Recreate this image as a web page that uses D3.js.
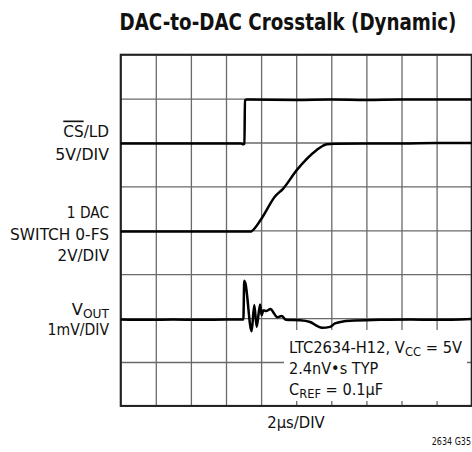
<!DOCTYPE html>
<html>
<head>
<meta charset="utf-8">
<script src="https://cdn.jsdelivr.net/npm/d3@7"></script>
<style>
  body { margin: 0; background: #fff; }
  svg text { font-family: "Liberation Sans Narrow", "DejaVu Sans Condensed", "Arial Narrow", sans-serif; fill: #111; }
</style>
</head>
<body>
<div id="chart"></div>
<script>
// time axis in microseconds (2us/DIV, 10 divisions), vertical in scope divisions (8 divisions, 0 = bottom)
const timeTicks = d3.range(0, 21, 2);
const divTicks = d3.range(0, 9, 1);

// CS/LD trace
const csTime = [0, 4, 6.85, 6.98, 7.05, 7.08, 7.2, 10, 12, 14, 16, 18, 20];
const csVal  = [5.98, 5.98, 5.98, 5.96, 5.97, 6.96, 6.98, 6.97, 6.98, 6.97, 6.98, 6.98, 6.98];

// 1 DAC switch 0-FS trace
const dacTime = [0, 4, 7.4, 7.46, 8.03, 8.79, 9.26, 10.03, 11.17, 11.5, 11.74, 12.2, 14, 16, 18, 20];
const dacVal  = [3.97, 3.97, 3.97, 3.98, 4.27, 4.77, 4.95, 5.37, 5.83, 5.92, 5.96, 5.97, 5.98, 5.98, 5.99, 5.99];

// VOUT trace
const voutTime = [0, 1.5, 3, 4.5, 6, 6.99, 7.04, 7.1, 7.46, 7.61, 7.75, 7.94, 8.03, 8.13, 8.28, 8.54, 8.73, 8.92, 9.17, 9.42, 10.22, 10.79, 11.24, 11.47, 11.93, 12.21, 13.07, 14.77, 16.5, 18, 20];
const voutVal  = [1.97, 1.96, 1.97, 1.96, 1.97, 1.97, 2.85, 2.8, 1.70, 2.30, 1.80, 2.31, 2.07, 2.18, 2.16, 2.21, 2.11, 2.02, 2.05, 1.96, 1.95, 1.91, 1.81, 1.78, 1.80, 1.88, 1.94, 1.96, 1.97, 1.96, 1.98];

const plot = {left: 120.7, right: 471.7, top: 54.7, bottom: 405.9};

const svg = d3.select("#chart").append("svg")
    .attr("width", 472)
    .attr("height", 452);

const x = d3.scaleLinear().domain([0, 20]).range([plot.left, plot.right]);
const y = d3.scaleLinear().domain([0, 8]).range([plot.bottom, plot.top]);
const plotW = plot.right - plot.left, plotH = plot.bottom - plot.top;

// squeeze a text horizontally to the width it has in the condensed original
function fit(t, w) {
    const node = t.node();
    const box = node.getBBox();
    const ax = +t.attr("x");
    const k = w / box.width;
    t.attr("transform", `translate(${ax},0) scale(${k},1) translate(${-ax},0)`);
    return t;
}

// title
fit(svg.append("text")
    .attr("x", 119.5)
    .attr("y", 30)
    .style("font-size", "23.5px")
    .style("font-weight", "bold")
    .text("DAC-to-DAC Crosstalk (Dynamic)"), 337);

// grid through axes
const gx = svg.append("g")
    .attr("transform", `translate(0,${plot.bottom})`)
    .call(d3.axisBottom(x).tickValues(timeTicks).tickSize(-plotH).tickFormat(""));
const gy = svg.append("g")
    .attr("transform", `translate(${plot.left},0)`)
    .call(d3.axisLeft(y).tickValues(divTicks).tickSize(-plotW).tickFormat(""));
gx.select(".domain").remove();
gy.select(".domain").remove();
svg.selectAll(".tick line").attr("stroke", "#6a6a6a").attr("stroke-width", 1.3);

// white box behind annotation
svg.append("rect")
    .attr("x", 284).attr("y", 330)
    .attr("width", 183).attr("height", 71)
    .attr("fill", "#fff");

// frame
svg.append("rect")
    .attr("x", plot.left).attr("y", plot.top)
    .attr("width", plotW).attr("height", plotH)
    .attr("fill", "none")
    .attr("stroke", "#222")
    .attr("stroke-width", 2);

// traces
const line = d3.line().x(d => x(d[0])).y(d => y(d[1])).curve(d3.curveMonotoneX);
const traces = [
    d3.zip(csTime, csVal),
    d3.zip(dacTime, dacVal),
    d3.zip(voutTime, voutVal)
];
svg.append("g").selectAll("path")
    .data(traces)
    .join("path")
    .attr("d", line)
    .attr("fill", "none")
    .attr("stroke", "#000")
    .attr("stroke-width", 2.5)
    .attr("stroke-linejoin", "round");

// left labels
const lab = svg.append("g").style("font-size", "16.5px").attr("text-anchor", "end");
const cs = lab.append("text").attr("x", 109).attr("y", 137.3);
cs.append("tspan").style("text-decoration", "overline").text("CS");
cs.append("tspan").text("/LD");
fit(cs, 45.7);
fit(lab.append("text").attr("x", 109).attr("y", 160).text("5V/DIV"), 54.7);
fit(lab.append("text").attr("x", 109).attr("y", 218.3).text("1 DAC"), 42.3);
fit(lab.append("text").attr("x", 109).attr("y", 240).text("SWITCH 0-FS"), 99);
fit(lab.append("text").attr("x", 109).attr("y", 261).text("2V/DIV"), 52.3);
const vo = lab.append("text").attr("x", 109).attr("y", 315.5);
vo.append("tspan").text("V");
vo.append("tspan").attr("dy", 2.5).style("font-size", "12.5px").text("OUT");
fit(vo, 37.3);
fit(lab.append("text").attr("x", 109).attr("y", 335.5).text("1mV/DIV"), 62.3);

// annotation
const ann = svg.append("g").style("font-size", "16.5px");
const a1 = ann.append("text").attr("x", 289).attr("y", 352.7);
a1.append("tspan").text("LTC2634-H12, V");
a1.append("tspan").attr("dy", 3).style("font-size", "13px").text("CC");
a1.append("tspan").attr("dy", -3).text(" = 5V");
fit(a1, 174);
fit(ann.append("text").attr("x", 289).attr("y", 374.3).text("2.4nV\u2022s TYP"), 89.3);
const a3 = ann.append("text").attr("x", 289).attr("y", 395);
a3.append("tspan").text("C");
a3.append("tspan").attr("dy", 3).style("font-size", "13px").text("REF");
a3.append("tspan").attr("dy", -3).text(" = 0.1\u00b5F");
fit(a3, 94.3);

// axis caption
fit(svg.append("text")
    .attr("x", 296).attr("y", 428.3)
    .attr("text-anchor", "middle")
    .style("font-size", "16.5px")
    .text("2\u00b5s/DIV"), 58.3);

fit(svg.append("text")
    .attr("x", 471).attr("y", 445)
    .attr("text-anchor", "end")
    .style("font-size", "10px")
    .text("2634 G35"), 39.3);
</script>
</body>
</html>
